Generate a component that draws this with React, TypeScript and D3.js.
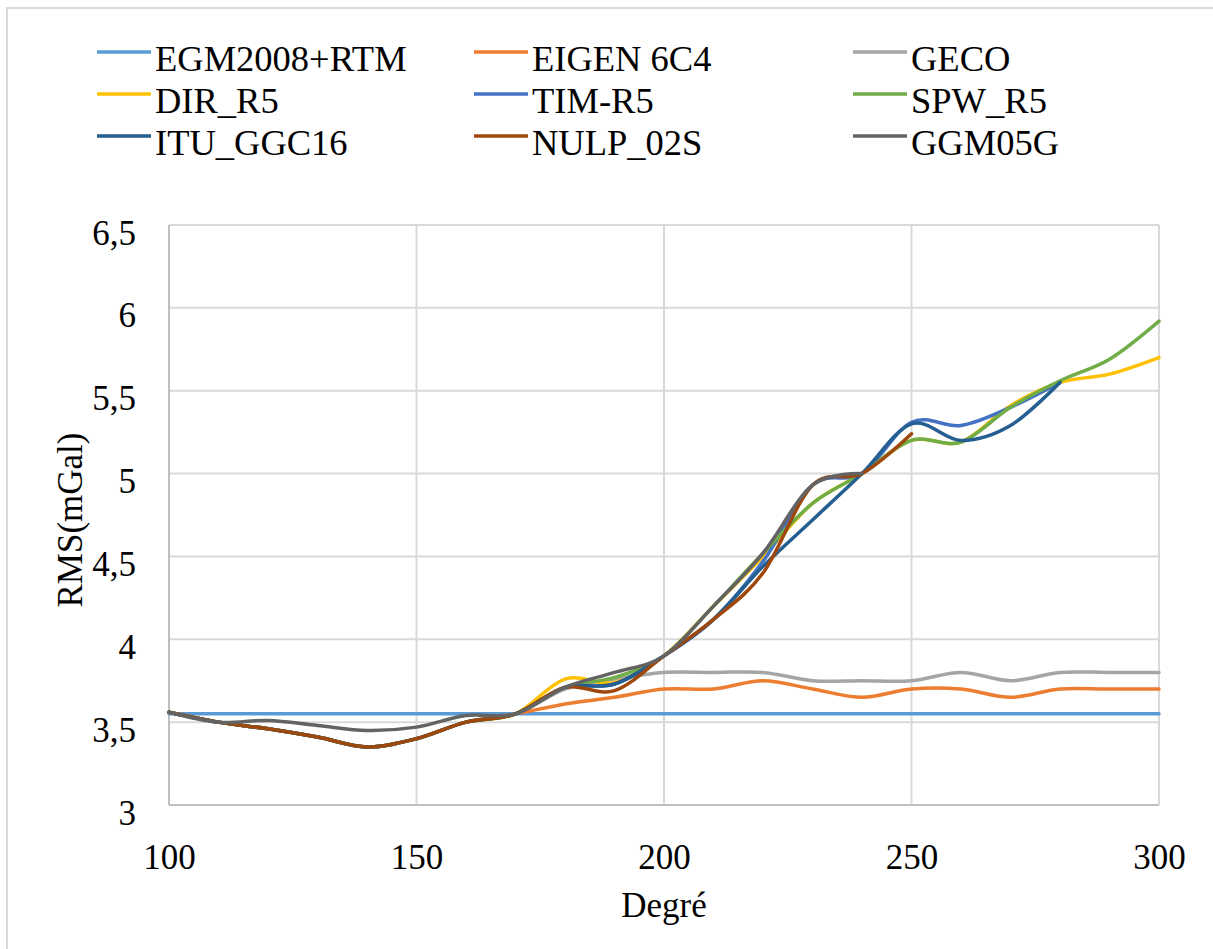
import React, { useRef, useEffect } from 'react';
import * as d3 from 'd3';

// degrees sampled every 10
const degrees = [100, 110, 120, 130, 140, 150, 160, 170, 180, 190, 200, 210, 220, 230, 240, 250, 260, 270, 280, 290, 300];

const egm2008 = [3.55, 3.55, 3.55, 3.55, 3.55, 3.55, 3.55, 3.55, 3.55, 3.55, 3.55, 3.55, 3.55, 3.55, 3.55, 3.55, 3.55, 3.55, 3.55, 3.55, 3.55];
const eigen6c4 = [3.56, 3.5, 3.46, 3.41, 3.35, 3.4, 3.5, 3.55, 3.61, 3.65, 3.7, 3.7, 3.75, 3.7, 3.65, 3.7, 3.7, 3.65, 3.7, 3.7, 3.7];
const geco = [3.56, 3.5, 3.46, 3.41, 3.35, 3.4, 3.5, 3.55, 3.7, 3.76, 3.8, 3.8, 3.8, 3.75, 3.75, 3.75, 3.8, 3.75, 3.8, 3.8, 3.8];
const dirR5 = [3.56, 3.5, 3.46, 3.41, 3.35, 3.4, 3.5, 3.55, 3.76, 3.74, 3.9, 4.2, 4.5, 4.82, 5.0, 5.2, 5.19, 5.41, 5.55, 5.6, 5.7];
const timR5 = [3.56, 3.5, 3.46, 3.41, 3.35, 3.4, 3.5, 3.55, 3.71, 3.73, 3.9, 4.12, 4.47, 4.93, 5.0, 5.31, 5.29, 5.4, 5.55, null, null];
const spwR5 = [3.56, 3.5, 3.46, 3.41, 3.35, 3.4, 3.5, 3.55, 3.71, 3.77, 3.9, 4.2, 4.52, 4.82, 5.0, 5.2, 5.19, 5.4, 5.56, 5.69, 5.92];
const ituGgc16 = [3.56, 3.5, 3.46, 3.41, 3.35, 3.4, 3.5, 3.55, 3.71, 3.73, 3.9, 4.12, 4.44, 4.72, 5.0, 5.3, 5.2, 5.29, 5.55, null, null];
const nulp02s = [3.56, 3.5, 3.46, 3.41, 3.35, 3.4, 3.5, 3.55, 3.71, 3.69, 3.9, 4.12, 4.4, 4.93, 5.0, 5.24, null, null, null, null, null];
const ggm05g = [3.56, 3.5, 3.51, 3.48, 3.45, 3.47, 3.54, 3.55, 3.71, 3.8, 3.9, 4.2, 4.52, 4.93, 5.0, null, null, null, null, null, null];

const seriesNames = ['EGM2008+RTM', 'EIGEN 6C4', 'GECO', 'DIR_R5', 'TIM-R5', 'SPW_R5', 'ITU_GGC16', 'NULP_02S', 'GGM05G'];
const seriesValues = [egm2008, eigen6c4, geco, dirR5, timR5, spwR5, ituGgc16, nulp02s, ggm05g];
const colors = ['#5B9BD5', '#ED7D31', '#A5A5A5', '#FFC000', '#4472C4', '#70AD47', '#255E91', '#9E480E', '#636363'];

const xTicks = [100, 150, 200, 250, 300];
const yTicks = [3, 3.5, 4, 4.5, 5, 5.5, 6, 6.5];

const FONT = '"Liberation Serif", "Times New Roman", serif';

const App: React.FC = () => {
  const svgRef = useRef<SVGSVGElement>(null);

  useEffect(() => {
    if (!svgRef.current) return;
    const svg = d3.select(svgRef.current);
    svg.selectAll('*').remove();

    const left = 169, right = 1159, top = 225, bottom = 805;
    const x = d3.scaleLinear().domain([100, 300]).range([left, right]);
    const y = d3.scaleLinear().domain([3, 6.5]).range([bottom, top]);
    const fr = d3.formatLocale({ decimal: ',', thousands: ' ', grouping: [3], currency: ['', ''] }).format('~g');

    // chart area border (runs off the picture on right/bottom)
    svg.append('rect')
      .attr('x', 7).attr('y', 8)
      .attr('width', 1240).attr('height', 980)
      .attr('fill', 'white')
      .attr('stroke', '#D9D9D9').attr('stroke-width', 2);

    // gridlines
    svg.append('g')
      .selectAll('line')
      .data(yTicks.filter(t => t > 3))
      .join('line')
      .attr('x1', left).attr('x2', right)
      .attr('y1', d => y(d)).attr('y2', d => y(d))
      .attr('stroke', '#D9D9D9').attr('stroke-width', 2);
    svg.append('g')
      .selectAll('line')
      .data(xTicks.filter(t => t > 100))
      .join('line')
      .attr('x1', d => x(d)).attr('x2', d => x(d))
      .attr('y1', top).attr('y2', bottom)
      .attr('stroke', '#D9D9D9').attr('stroke-width', 2);

    // axis lines
    svg.append('line')
      .attr('x1', left).attr('x2', left).attr('y1', top).attr('y2', bottom)
      .attr('stroke', '#BFBFBF').attr('stroke-width', 2);
    svg.append('line')
      .attr('x1', left).attr('x2', right).attr('y1', bottom).attr('y2', bottom)
      .attr('stroke', '#BFBFBF').attr('stroke-width', 2);

    // Y axis labels
    const yAxis = svg.append('g')
      .attr('transform', `translate(${left},0)`)
      .call(d3.axisLeft(y).tickValues(yTicks).tickSize(0).tickPadding(33).tickFormat(d => fr(d as number)));
    yAxis.select('.domain').remove();
    yAxis.selectAll('text')
      .attr('dy', '19px')
      .attr('font-family', FONT).attr('font-size', 35).attr('fill', '#000');

    // X axis labels
    const xAxis = svg.append('g')
      .attr('transform', `translate(0,${bottom})`)
      .call(d3.axisBottom(x).tickValues(xTicks).tickSize(0).tickFormat(d => String(d)));
    xAxis.select('.domain').remove();
    xAxis.selectAll('text')
      .attr('y', 64).attr('dy', 0)
      .attr('font-family', FONT).attr('font-size', 35).attr('fill', '#000');

    // axis titles
    svg.append('text')
      .attr('x', 664).attr('y', 917)
      .attr('text-anchor', 'middle')
      .attr('font-family', FONT).attr('font-size', 35)
      .text('Degré');
    svg.append('text')
      .attr('transform', 'translate(82,520) rotate(-90)')
      .attr('text-anchor', 'middle')
      .attr('font-family', FONT).attr('font-size', 35)
      .text('RMS(mGal)');

    // series
    const line = d3.line<[number, number | null]>()
      .defined(d => d[1] !== null)
      .x(d => x(d[0]))
      .y(d => y(d[1] as number))
      .curve(d3.curveCardinal.tension(0));

    seriesValues.forEach((vals, i) => {
      const pts = degrees.map((deg, j) => [deg, vals[j]] as [number, number | null]);
      svg.append('path')
        .attr('d', line(pts))
        .attr('fill', 'none')
        .attr('stroke', colors[i])
        .attr('stroke-width', 3.5)
        .attr('stroke-linejoin', 'round')
        .attr('stroke-linecap', 'round');
    });

    // legend, 3 columns x 3 rows
    const colX = [97, 474, 853];
    const rowY = [52, 94, 136];
    const lg = svg.append('g');
    seriesNames.forEach((name, i) => {
      const cx = colX[i % 3];
      const cy = rowY[Math.floor(i / 3)];
      lg.append('line')
        .attr('x1', cx).attr('x2', cx + 54)
        .attr('y1', cy).attr('y2', cy)
        .attr('stroke', colors[i]).attr('stroke-width', 3.5);
      lg.append('text')
        .attr('x', cx + 58).attr('y', cy + 18.5)
        .attr('font-family', FONT).attr('font-size', 36.5).attr('fill', '#000')
        .text(name);
    });
  }, []);

  return (
    <div style={{ position: 'absolute', left: 0, top: 0 }}>
      <svg ref={svgRef} width={1213} height={949} style={{ display: 'block' }} />
    </div>
  );
};

export default App;
